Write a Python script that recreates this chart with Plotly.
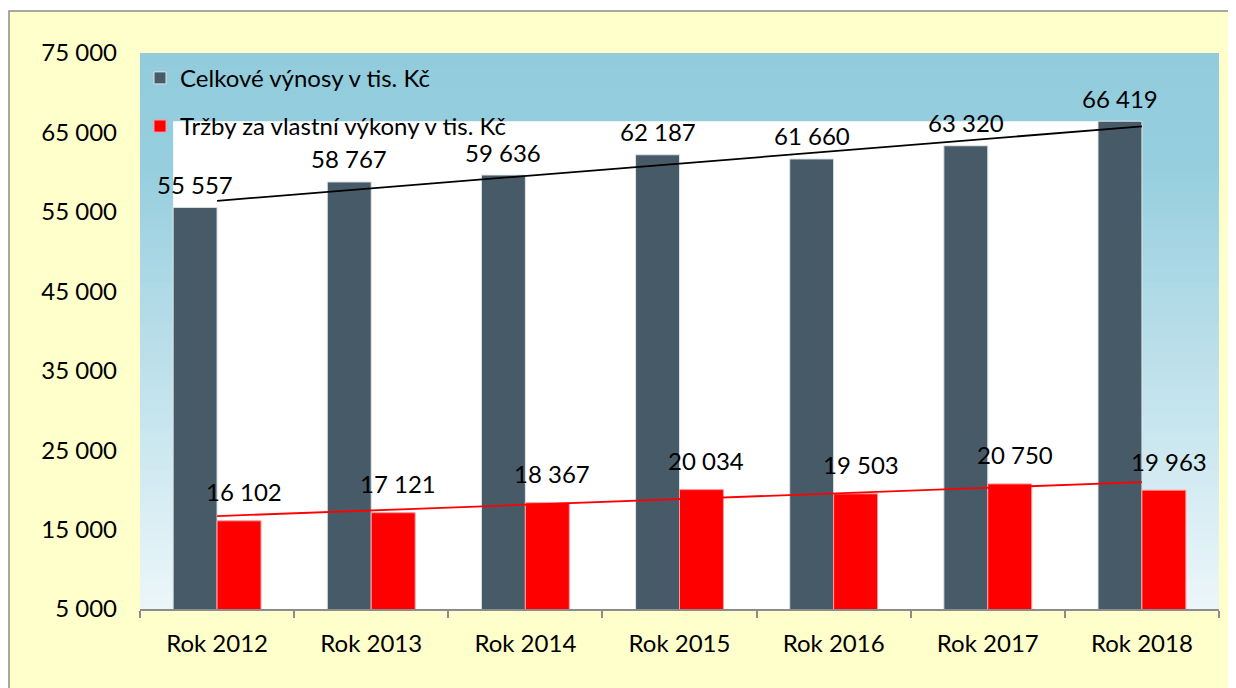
import plotly.graph_objects as go
import numpy as np

categories = ["Rok 2012", "Rok 2013", "Rok 2014", "Rok 2015", "Rok 2016", "Rok 2017", "Rok 2018"]
celkove_vynosy = [55557, 58767, 59636, 62187, 61660, 63320, 66419]
trzby = [16102, 17121, 18367, 20034, 19503, 20750, 19963]
series_names = ["Celkové výnosy v tis. Kč", "Tržby za vlastní výkony v tis. Kč"]
y_ticks = [5000, 15000, 25000, 35000, 45000, 55000, 65000, 75000]

GREY = "#465A68"
RED = "#FF0000"
FONT = "Lato"
FS = 24

# the page has an 8px body margin, so the figure starts at (8, 8)
OFF = 8
W, H = 1236 - OFF, 688 - OFF
ML, MR, MT, MB = 140 - OFF, 17, 53 - OFF, 79
PW, PH = W - ML - MR, H - MT - MB

bargap = 0.43
barw = (1 - bargap) / 2

fig = go.Figure()
fig.add_trace(go.Bar(x=categories, y=celkove_vynosy, name=series_names[0],
                     marker=dict(color=GREY, line=dict(color="#DDE3E6", width=1)),
                     legendgroup="a"))
fig.add_trace(go.Bar(x=categories, y=trzby, name=series_names[1],
                     marker=dict(color=RED, line=dict(color="#FF9A9A", width=1)),
                     legendgroup="b"))

# linear trend lines
xi = np.arange(len(categories))
for vals, col in [(celkove_vynosy, "#000000"), (trzby, RED)]:
    k, q = np.polyfit(xi, vals, 1)
    fig.add_trace(go.Scatter(x=[categories[0], categories[-1]],
                             y=[q, q + k * (len(categories) - 1)],
                             mode="lines", line=dict(color=col, width=1.8),
                             showlegend=False, hoverinfo="skip"))

# data labels
def fmt(v):
    return f"{v:,}".replace(",", " ")

for i, v in enumerate(celkove_vynosy):
    fig.add_annotation(x=i - barw / 2, y=v, text=fmt(v), showarrow=False,
                       yshift=23, font=dict(family=FONT, size=FS, color="#000"))
for i, v in enumerate(trzby):
    fig.add_annotation(x=i + barw / 2, y=v, text=fmt(v), showarrow=False,
                       yshift=29, xshift=5, font=dict(family=FONT, size=FS, color="#000"))

shapes = []
# outer chart box
shapes.append(dict(type="rect", xref="paper", yref="paper",
                   x0=(9 - OFF - ML) / PW, x1=(W + 20 - ML) / PW,
                   y0=-(H + 20 - MT - PH) / PH, y1=1 + (MT - (11 - OFF)) / PH,
                   fillcolor="#FFFFCC", line=dict(color="#8C8C8C", width=1.5),
                   layer="below"))

# gradient plot background
def lerp(c1, c2, t):
    return tuple(int(round(a + (b - a) * t)) for a, b in zip(c1, c2))

top_c = (146, 204, 220)
mid_c = (150, 206, 222)
bot_c = (236, 246, 250)
nb = 80
for j in range(nb):
    t = (j + 0.5) / nb  # 0 top -> 1 bottom
    if t < 0.2:
        c = lerp(top_c, mid_c, t / 0.2)
    else:
        c = lerp(mid_c, bot_c, (t - 0.2) / 0.8)
    y1 = 1 - j / nb
    y0 = 1 - (j + 1) / nb - 0.002
    shapes.append(dict(type="rect", xref="paper", yref="paper",
                       x0=0, x1=1, y0=max(y0, 0), y1=y1,
                       fillcolor="rgb(%d,%d,%d)" % c, line=dict(width=0),
                       layer="below"))

# white panel behind the bars
shapes.append(dict(type="rect", xref="x", yref="y",
                   x0=-barw, x1=len(categories) - 1,
                   y0=y_ticks[0], y1=max(celkove_vynosy),
                   fillcolor="#FFFFFF", line=dict(width=0), layer="below"))

fig.update_layout(
    width=W, height=H,
    margin=dict(l=ML, r=MR, t=MT, b=MB),
    paper_bgcolor="#FFFFFF",
    plot_bgcolor="rgba(0,0,0,0)",
    barmode="group", bargap=bargap, bargroupgap=0,
    separators=", ",
    shapes=shapes,
    font=dict(family=FONT, size=FS, color="#000000"),
    showlegend=True,
    legend=dict(x=0.0, y=0.995, xanchor="left", yanchor="top",
                bgcolor="rgba(0,0,0,0)", tracegroupgap=14,
                font=dict(family=FONT, size=FS, color="#000")),
    xaxis=dict(type="category", showgrid=False, showline=True, linecolor="#8C8C8C",
               linewidth=1.5, ticks="outside", tickson="boundaries", ticklen=7,
               tickcolor="#8C8C8C", tickwidth=1.5, ticklabelstandoff=12,
               tickfont=dict(family=FONT, size=FS, color="#000")),
    yaxis=dict(range=[y_ticks[0], y_ticks[-1]], tickvals=y_ticks, tickformat=",d",
               showgrid=False, zeroline=False, showline=False, ticks="",
               ticklabelstandoff=22,
               tickfont=dict(family=FONT, size=FS, color="#000")),
)

fig.write_html("out.html")
